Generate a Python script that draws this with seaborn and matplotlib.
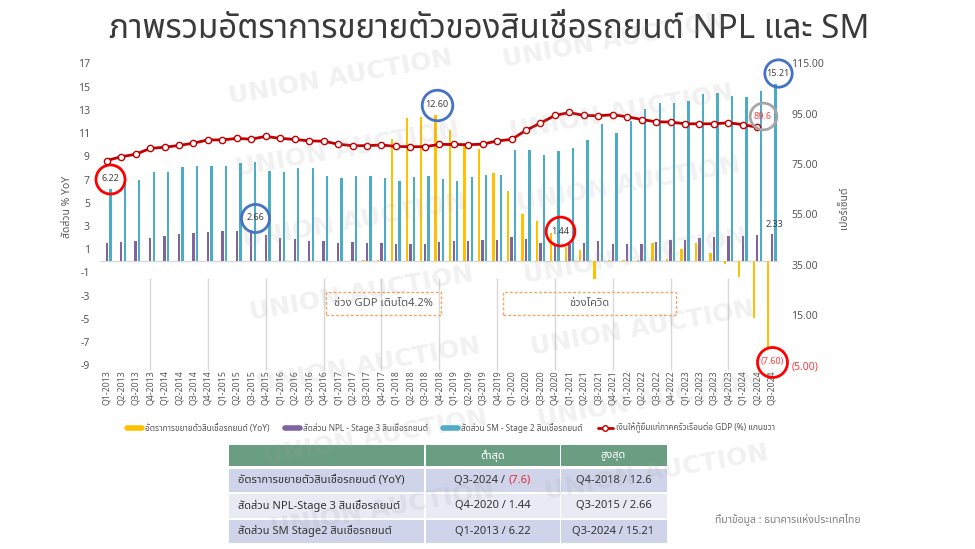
import numpy as np
import pandas as pd
import matplotlib
matplotlib.use("Agg")
import matplotlib.pyplot as plt
import matplotlib.transforms as mtransforms
from matplotlib import font_manager
from matplotlib.ft2font import FT2Font
from matplotlib.lines import Line2D
from matplotlib.patches import Rectangle
import seaborn as sns

# ---------------- data ----------------
quarters = [f"Q{q}-{y}" for y in range(2013, 2025) for q in range(1, 5)][:47]

series_names = ["อัตราการขยายตัวสินเชื่อรถยนต์ (YoY)",
                "สัดส่วน NPL - Stage 3 สินเชื่อรถยนต์",
                "สัดส่วน SM - Stage 2 สินเชื่อรถยนต์"]
line_name = "เงินให้กู้ยืมแก่ภาคครัวเรือนต่อ GDP (%) แกนขวา"

loan_growth = [np.nan] * 18 + [
    0.1, 0.1, 10.5, 12.3, 12.4, 12.6, 11.3, 10.1, 9.6, 7.6,
    6.0, 4.0, 3.4, 2.4, 1.2, 0.9, -1.6, 0.1, 0.1, 0.1,
    1.5, 0.2, 1.0, 1.5, 0.7, -0.3, -1.4, -4.9, -7.6]

npl_ratio = [1.50, 1.61, 1.75, 1.95, 2.16, 2.30, 2.39, 2.47, 2.59, 2.56,
             2.66, 2.24, 1.98, 1.87, 1.75, 1.75, 1.58, 1.61, 1.58, 1.55,
             1.46, 1.46, 1.49, 1.64, 1.67, 1.75, 1.81, 1.81, 2.04, 1.84,
             1.55, 1.44, 1.49, 1.55, 1.67, 1.47, 1.47, 1.47, 1.64, 1.81,
             1.81, 1.98, 2.04, 2.10, 2.16, 2.21, 2.33]

sm_ratio = [6.22, 6.70, 6.93, 7.64, 7.67, 8.07, 8.16, 8.19, 8.19, 8.42,
            8.48, 7.73, 7.64, 8.02, 7.99, 7.33, 7.10, 7.30, 7.30, 7.10,
            6.90, 7.18, 7.27, 7.04, 6.84, 7.21, 7.36, 7.36, 9.57, 9.57,
            9.11, 9.43, 9.68, 10.43, 11.81, 11.03, 12.01, 13.07, 13.59, 13.59,
            13.74, 14.34, 14.45, 14.22, 14.11, 14.63, 15.21]

household_debt_gdp = [76.4, 77.9, 78.9, 81.2, 81.7, 82.4, 83.3, 84.6, 84.6, 85.2,
                      84.9, 86.0, 85.2, 84.8, 84.2, 84.1, 82.9, 82.3, 82.3, 82.6,
                      82.0, 81.9, 81.9, 82.8, 82.8, 82.7, 82.9, 84.2, 84.8, 88.4,
                      91.3, 94.3, 95.5, 94.3, 94.2, 94.6, 93.8, 92.7, 91.8, 91.7,
                      91.0, 91.0, 91.0, 91.4, 90.7, 89.6, np.nan]

left_ticks = list(range(-9, 18, 2))
right_ticks = [-5, 15, 35, 55, 75, 95, 115]

table_rows = ["อัตราการขยายตัวสินเชื่อรถยนต์ (YoY)",
              "สัดส่วน NPL-Stage 3 สินเชื่อรถยนต์",
              "สัดส่วน SM Stage2 สินเชื่อรถยนต์"]
table_header = ["ต่ำสุด", "สูงสุด"]
table_low = ["Q3-2024 / (7.6)", "Q4-2020 / 1.44", "Q1-2013 / 6.22"]
table_high = ["Q4-2018 / 12.6", "Q3-2015 / 2.66", "Q3-2024 / 15.21"]

title = "ภาพรวมอัตราการขยายตัวของสินเชื่อรถยนต์ NPL และ SM"
source = "ที่มาข้อมูล : ธนาคารแห่งประเทศไทย"

# ---------------- fonts ----------------
def find_thai_family():
    preferred = ["Noto Sans Thai", "Noto Sans Thai UI", "Noto Sans Thai Looped",
                 "Sarabun", "Loma", "Garuda", "Kinnari", "Norasi", "Tlwg Typo"]
    found = {}
    for f in font_manager.fontManager.ttflist:
        try:
            cmap = FT2Font(f.fname).get_charmap()
        except Exception:
            continue
        if 0x0E01 in cmap and 0x0E40 in cmap:
            found.setdefault(f.name, f.fname)
    for name in preferred:
        if name in found:
            return name
    return next(iter(found), None)


sns.set_style("white")
thai = find_thai_family()
families = ([thai] if thai else []) + ["DejaVu Sans"]
plt.rcParams["font.family"] = families

YELLOW, PURPLE, CYAN, RED = "#FFC000", "#8064A2", "#4BACC6", "#C00000"
GREY_TXT = "#595959"

W, H = 975, 549
fig = plt.figure(figsize=(W / 100, H / 100), dpi=100)
fig.patch.set_facecolor("white")

# plot area in pixels: x 99.5..779, y 63.4..365.4
ax = fig.add_axes([99.5 / W, 1 - 365.4 / H, 679.5 / W, 302 / H])

long_df = pd.DataFrame({
    "quarter": quarters * 3,
    "series": [series_names[0]] * 47 + [series_names[1]] * 47 + [series_names[2]] * 47,
    "value": loan_growth + npl_ratio + sm_ratio,
})

sns.barplot(data=long_df, x="quarter", y="value", hue="series", order=quarters,
            hue_order=series_names, palette=[YELLOW, PURPLE, CYAN], width=0.75,
            gap=0.35, saturation=1, linewidth=0, errorbar=None, legend=False, ax=ax)

ax.set_ylim(-9, 17)
ax.set_yticks(left_ticks)
ax.set_xlim(-0.5, 46.5)
ax.set_xlabel("")
ax.set_ylabel("")
ax.axhline(0, color="#d9d9d9", lw=1, zorder=0.5)
for s in ax.spines.values():
    s.set_visible(False)
ax.tick_params(axis="y", length=0, pad=7, labelsize=7.5, labelcolor=GREY_TXT)
ax.tick_params(axis="x", length=0, pad=3.3, labelsize=6.3, labelcolor=GREY_TXT)
ax.set_xticks(range(len(quarters)))
ax.set_xticklabels(quarters, rotation=90, va="top", ha="center")

# separators below the zero line at every Q4
q4_idx = [i for i, q in enumerate(quarters) if q.startswith("Q4")]
ax.vlines(q4_idx, -9.4, -1.5, color="#d9d9d9", lw=1, clip_on=False, zorder=0.5)

# annotation boxes
for (x0, x1), txt in [((15.17, 23.12), "ช่วง GDP เติบโต4.2%"), ((27.4, 39.37), "ช่วงโควิด")]:
    ax.add_patch(Rectangle((x0, -4.65), x1 - x0, 1.95, fill=False, ec="#F4A460",
                           ls=(0, (2, 1.5)), lw=1, zorder=3))
    ax.text((x0 + x1) / 2, -3.65, txt, ha="center", va="center", fontsize=8,
            color=GREY_TXT, zorder=3)

# right axis: household debt / GDP
ax2 = ax.twinx()
sns.lineplot(x=np.arange(len(quarters)), y=household_debt_gdp, ax=ax2, color=RED, lw=2,
             marker="o", markersize=4.5, markerfacecolor="white", markeredgecolor=RED,
             markeredgewidth=1, zorder=5)
ax2.set_ylim(-5, 115)
ax2.set_xlim(-0.5, 46.5)
ax2.set_yticks(right_ticks,
               [f"({abs(v):.2f})" if v < 0 else f"{v:.2f}" for v in right_ticks])
for s in ax2.spines.values():
    s.set_visible(False)
ax2.tick_params(axis="y", length=0, pad=9, labelsize=7.5, labelcolor=GREY_TXT)
for lab in ax2.get_yticklabels():
    if lab.get_text().startswith("("):
        lab.set_color("#FF3B3B")
ax2.grid(False)
ax.grid(False)


def circled(axis, x, v, text, dx, dy, tcolor, ccolor=None, diam=21):
    tr = mtransforms.offset_copy(axis.transData, fig=fig, x=dx, y=dy, units="points")
    axis.text(x, v, text, transform=tr, ha="center", va="center", fontsize=6.5,
              color=tcolor, zorder=8, clip_on=False)
    if ccolor:
        axis.plot([x], [v], transform=tr, marker="o", ms=diam, mfc="none", mec=ccolor,
                  mew=2, zorder=8, clip_on=False)


DARK = "#404040"
circled(ax, 0.25, sm_ratio[0], f"{sm_ratio[0]:.2f}", 0, 7.2, DARK, "#FF0000", 20.9)
circled(ax, 10, npl_ratio[10], f"{npl_ratio[10]:.2f}", 2.7, 8.9, DARK, "#4472C4", 20.2)
circled(ax, 22.75, loan_growth[23], f"{loan_growth[23]:.2f}", 1, 7.2, DARK, "#4472C4", 22)
circled(ax, 31, npl_ratio[31], f"{npl_ratio[31]:.2f}", 3.6, 9.1, DARK, "#FF0000", 20.7)
circled(ax, 46.25, sm_ratio[46], f"{sm_ratio[46]:.2f}", 1.8, 7.8, DARK, "#4472C4", 19.7)
circled(ax, 46, npl_ratio[46], f"{npl_ratio[46]:.2f}", 2.2, 7, DARK)
circled(ax, 45.75, loan_growth[46], f"({abs(loan_growth[46]):.2f})", 2.7, -9.2,
        "#FF3B3B", "#FF0000", 21.6)
circled(ax2, 45, household_debt_gdp[45], f"{household_debt_gdp[45]:.1f}", 3.8, 8.1,
        "#FF3B3B", "#A5A5A5", 19.2)

# axis titles
fig.text(68 / W, 1 - 207 / H, "สัดส่วน % YoY", rotation=90, ha="center", va="center",
         fontsize=7.5, color=GREY_TXT)
fig.text(845 / W, 1 - 208 / H, "เปอร์เซ็นต์", rotation=90, ha="center", va="center",
         fontsize=7.5, color=GREY_TXT)

# legend
handles = [Line2D([0], [0], color=YELLOW, lw=4),
           Line2D([0], [0], color=PURPLE, lw=4),
           Line2D([0], [0], color=CYAN, lw=4),
           Line2D([0], [0], color=RED, lw=2, marker="o", ms=4, mfc="white", mec=RED)]
fig.legend(handles, series_names + [line_name], loc="center",
           bbox_to_anchor=(451 / W, 1 - 428 / H), ncol=4, frameon=False, fontsize=6,
           handlelength=1.8, handletextpad=0.4, columnspacing=1.8, labelcolor=GREY_TXT)

# title
t = fig.text(489 / W, 1 - 30 / H, title, ha="center", va="center", fontsize=20,
             fontweight="bold", color="#3A3A3A")
fig.canvas.draw()
bb = t.get_window_extent(fig.canvas.get_renderer())
t.set_fontsize(20 * 762 / bb.width)

fig.text(715 / W, 1 - 519 / H, source, ha="left", va="center", fontsize=7.5,
         color="#7F7F7F")

# summary table (drawn in pixel space)
ov = fig.add_axes([0, 0, 1, 1])
ov.set_xlim(0, W)
ov.set_ylim(H, 0)
ov.axis("off")
col_x = [229, 425, 560, 667]
row_y = [(445, 466), (468.5, 492), (494, 517.5), (519.5, 543)]
row_fill = ["#6A9E82", "#CFD4EA", "#E8EAF4", "#CFD4EA"]
for r, (y0, y1) in enumerate(row_y):
    for c in range(3):
        ov.add_patch(Rectangle((col_x[c] + (1 if c else 0), y0),
                               col_x[c + 1] - col_x[c] - 1, y1 - y0,
                               fc=row_fill[r], ec="none"))
ymid = [(a + b) / 2 for a, b in row_y]
for c, txt in enumerate(table_header):
    ov.text((col_x[c + 1] + col_x[c + 2]) / 2, ymid[0], txt, ha="center", va="center",
            fontsize=8, color="white")
for r, label in enumerate(table_rows):
    y = ymid[r + 1]
    ov.text(238, y, label, ha="left", va="center", fontsize=8, color="#333333")
    for c, cell in enumerate([table_low[r], table_high[r]]):
        cx = (col_x[c + 1] + col_x[c + 2]) / 2
        left, right = cell.split(" / ")
        if right.startswith("("):
            ov.text(cx + 13, y, left + " /", ha="right", va="center", fontsize=8,
                    color="#333333")
            ov.text(cx + 16, y, right, ha="left", va="center", fontsize=8,
                    color="#E03030")
        else:
            ov.text(cx, y, cell, ha="center", va="center", fontsize=8, color="#333333")

# watermark (only the copies that sit fully inside the canvas)
for x0, y0 in [(340, 77), (614, 40)]:
    for r in range(0, 7):
        fig.text((x0 + 7 * r) / W, 1 - (y0 + 72 * r) / H, "UNION AUCTION", rotation=10,
                 ha="center", va="center", fontsize=18, fontweight="bold",
                 family="DejaVu Sans", color="#9E9E9E", alpha=0.14, zorder=10)

fig.savefig("out.png", dpi=100)
